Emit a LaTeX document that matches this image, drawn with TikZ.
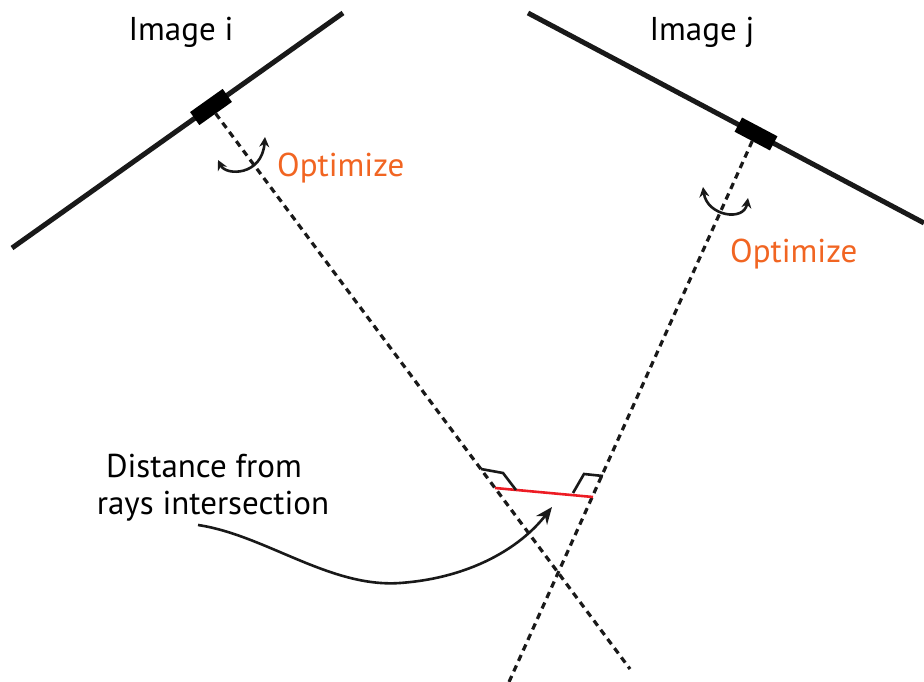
\documentclass[tikz,border=0pt]{standalone}
\usepackage{fontspec}
\setmainfont{PT Sans}
\usetikzlibrary{arrows.meta}
\definecolor{optorange}{RGB}{241,101,34}
\definecolor{redline}{RGB}{237,28,36}
\begin{document}
\begin{tikzpicture}[x=1pt,y=-1pt,
  plane/.style={line width=5pt,black!90},
  cam/.style={fill=black,minimum width=40pt,minimum height=16pt,inner sep=0pt,outer sep=0pt},
  ray/.style={line width=3.2pt,dash pattern=on 6.5pt off 5pt,black!90},
  tick/.style={line width=2.6pt,black!90},
  rot/.style={line width=2.6pt,black!90,{Stealth[length=10pt,width=10pt]}-{Stealth[length=10pt,width=10pt]}},
  lbl/.style={font=\fontsize{33}{39}\selectfont,inner sep=0pt},
  opt/.style={lbl,text=optorange,anchor=base west}]
\useasboundingbox (0,0) rectangle (924,682);
% image planes
\coordinate (i1) at (12,248); \coordinate (i2) at (343,13);
\coordinate (j1) at (528,13); \coordinate (j2) at (924,223);
\draw[plane] (i1) -- (i2);
\draw[plane] (j1) -- (j2);
\node[cam,rotate=35.4] (ci) at (211,107) {};
\node[cam,rotate=-27.9] (cj) at (756,134) {};
% rays
\coordinate (ei) at (630,669);
\coordinate (ej) at (509,682);
\draw[ray] (ci.south) -- (ei);
\draw[ray] (cj.south) -- (ej);
% distance segment
\coordinate (ri) at (495,488); \coordinate (rj) at (593,497);
\draw[redline,line width=2.6pt] (ri) -- (rj);
\coordinate (ta) at (516,490); \coordinate (tb) at (503,473); \coordinate (tc) at (481,469);
\coordinate (td) at (573,493); \coordinate (te) at (584,474); \coordinate (tf) at (603,476);
\draw[tick] (ta) -- (tb) -- (tc);
\draw[tick] (td) -- (te) -- (tf);
% rotation arrows
\coordinate (ai1) at (218,160); \coordinate (ai2) at (265,137);
\draw[rot] (ai1) .. controls (226,176) and (262,176) .. (ai2);
\coordinate (aj1) at (703,187); \coordinate (aj2) at (748,198);
\draw[rot] (aj1) .. controls (707,216) and (744,222) .. (aj2);
% labels
\node[lbl,anchor=base] (li) at (181,41) {Image i};
\node[lbl,anchor=base] (lj) at (702,41) {Image j};
\node[opt] (oi) at (277,176) {Optimize};
\node[opt] (oj) at (730,262) {Optimize};
\node[lbl,anchor=base] (d1) at (204,477) {Distance from};
\node[lbl,anchor=base] (d2) at (213,514) {rays intersection};
% curved arrow
\coordinate (cs) at (198,525); \coordinate (cm) at (400,583); \coordinate (ce) at (552,507);
\draw[line width=2.6pt,black!90,-{Stealth[length=17pt,width=14pt]}] (cs) .. controls (265,535) and (330,588) .. (cm) .. controls (470,578) and (520,548) .. (ce);
\end{tikzpicture}
\end{document}
